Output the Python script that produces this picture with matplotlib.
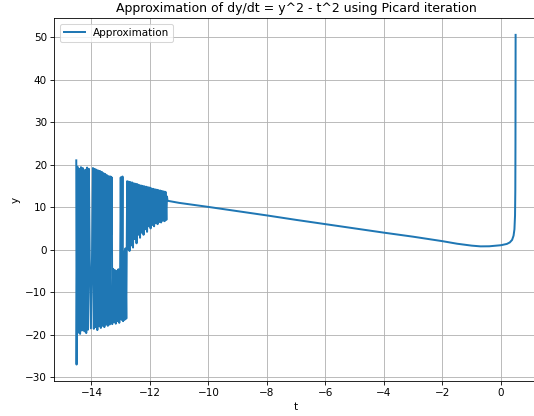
import matplotlib
matplotlib.use("Agg")
import matplotlib.pyplot as plt
import numpy as np

plt.rcParams["path.simplify"] = False

# Oscillating (unstable) part of the approximation
t_noisy = [-14.52, -14.51, -14.48, -14.45, -14.42, -14.39, -14.36, -14.33, -14.30, -14.27,
           -14.24, -14.21, -14.18, -14.15, -14.12, -14.09, -14.06, -14.02, -13.98, -13.95,
           -13.92, -13.89, -13.86, -13.83, -13.80, -13.77, -13.74, -13.71, -13.68, -13.65,
           -13.62, -13.59, -13.56, -13.53, -13.50, -13.47, -13.44, -13.41, -13.38, -13.35,
           -13.33, -13.31, -13.30, -13.29, -13.26, -13.23, -13.20, -13.17, -13.14, -13.11,
           -13.08, -13.05, -13.02, -13.00, -12.97, -12.94, -12.92, -12.90, -12.87, -12.84,
           -12.81, -12.78, -12.76, -12.73, -12.70, -12.67, -12.64, -12.61, -12.58, -12.55,
           -12.52, -12.49, -12.46, -12.43, -12.40, -12.37, -12.34, -12.31, -12.28, -12.25,
           -12.22, -12.19, -12.16, -12.13, -12.10, -12.07, -12.04, -12.01, -11.98, -11.95,
           -11.92, -11.89, -11.86, -11.83, -11.80, -11.77, -11.74, -11.71, -11.68, -11.65,
           -11.62, -11.59, -11.56, -11.53, -11.50, -11.47, -11.44, -11.42]
y_noisy = [21.0, -27.0, 19.5, -19.5, 19.0, -19.8, 19.4, -19.0, 19.2, 0.2,
           -19.2, 18.8, -19.6, 19.3, -18.8, 19.0, -2.0, -18.5, -1.0, 19.2,
           -18.6, 19.0, -18.2, 18.8, -18.9, 18.6, -18.0, 18.5, -18.4, 18.3,
           -17.9, 18.0, -18.2, 17.8, -17.6, 17.5, -17.9, 17.3, -17.6, 17.2,
           3.5, 17.0, 4.0, -17.5, -4.5, -17.0, -4.8, -17.4, -5.0, -16.8,
           -4.6, -17.2, -5.0, 17.0, -16.5, 17.2, -16.8, -0.5, -16.5, 0.3,
           -16.2, 16.1, 0.2, 16.0, -0.3, 15.9, 1.0, 15.8, 0.5, 15.6,
           2.5, 15.5, 1.5, 15.4, 3.5, 15.2, 2.8, 15.1, 4.0, 15.0,
           3.5, 14.9, 4.8, 14.8, 4.2, 14.7, 5.5, 14.6, 5.0, 14.4,
           5.8, 14.3, 5.5, 14.2, 6.2, 14.1, 6.0, 14.0, 6.5, 13.9,
           6.4, 13.8, 6.8, 13.7, 6.7, 13.6, 7.0, 12.5]

# Smooth part of the approximation
t_smooth = [-11.40, -11.0, -10.0, -9.0, -8.0, -7.0, -6.0, -5.0, -4.0, -3.0,
            -2.0, -1.5, -1.0, -0.7, -0.4, 0.0, 0.2, 0.3, 0.38, 0.43,
            0.46, 0.48, 0.49, 0.495, 0.50]
y_smooth = [11.5, 11.0, 10.05, 9.05, 8.05, 7.0, 6.0, 5.0, 4.0, 3.05,
            2.0, 1.4, 0.95, 0.78, 0.8, 1.05, 1.35, 1.7, 2.3, 3.3,
            4.8, 8.0, 14.0, 25.0, 50.5]

t_all = t_noisy + t_smooth
y_all = y_noisy + y_smooth

DPI = 75
fig = plt.figure(figsize=(534 / DPI, 416 / DPI), dpi=DPI)
ax = fig.add_axes([0.1017, 0.0841, 0.905, 0.8717])
ax.plot(t_all, y_all, label="Approximation", color="#1f77b4", linewidth=1.9)
ax.set_title("Approximation of dy/dt = y^2 - t^2 using Picard iteration")
ax.set_xlabel("t")
ax.set_ylabel("y")
ax.grid(True)
ax.legend(loc="upper left")
fig.savefig("out.png", dpi=DPI)
